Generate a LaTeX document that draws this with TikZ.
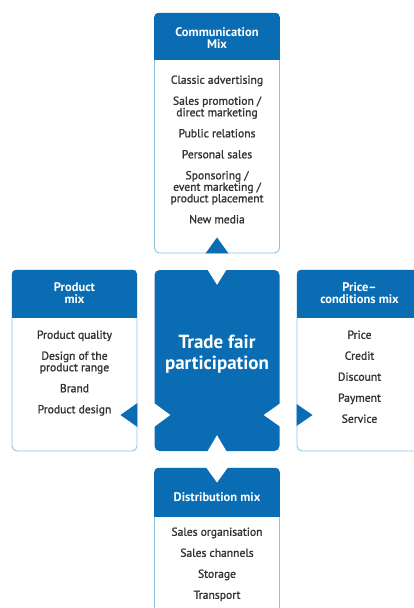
\documentclass[tikz,border=0pt]{standalone}
\usepackage{fontspec}
\setmainfont{PT Sans}
\newfontfamily\listfont[FakeBold=1.3]{PT Sans}
\usepackage{tikz}

\definecolor{mixblue}{HTML}{0A6DB3}
\definecolor{rimblue}{HTML}{8EC3E6}
\definecolor{listgray}{HTML}{333333}

\tikzstyle{panel} = [draw=rimblue, fill=white, line width=0.9pt, rounded corners=5pt, minimum width=125pt, inner sep=0pt]
\tikzstyle{mixtitle} = [text=white, font=\fontsize{12.5}{12}\selectfont\bfseries, align=center]
\tikzstyle{mixlist} = [text=listgray, font=\fontsize{11.6}{11.5}\selectfont\listfont, align=center, anchor=north]
\tikzstyle{core} = [fill=mixblue, rounded corners=5pt, minimum width=125pt, minimum height=181pt, inner sep=0pt]
\tikzstyle{coretitle} = [text=white, font=\fontsize{19}{21}\selectfont\bfseries, align=center]

\begin{document}
\begin{tikzpicture}[x=1pt, y=-1pt]
	\clip (0,0) rectangle (414,608);

	% the four mix panels
	\node[panel, minimum height=240pt] (comm) at (217,133) {};
	\node[panel, minimum height=181pt] (prod) at (74.5,360.5) {};
	\node[panel, minimum height=181pt] (price) at (359.5,360.5) {};
	\node[panel, minimum height=170pt] (dist) at (217,553) {};

	% blue heads
	\begin{scope}
		\clip[rounded corners=5pt] (comm.south west) rectangle (comm.north east);
		\fill[mixblue] (comm.north west) rectangle (comm.east |- 0,60);
	\end{scope}
	\begin{scope}
		\clip[rounded corners=5pt] (prod.south west) rectangle (prod.north east);
		\fill[mixblue] (prod.north west) rectangle (prod.east |- 0,318);
	\end{scope}
	\begin{scope}
		\clip[rounded corners=5pt] (price.south west) rectangle (price.north east);
		\fill[mixblue] (price.north west) rectangle (price.east |- 0,318);
	\end{scope}
	\begin{scope}
		\clip[rounded corners=5pt] (dist.south west) rectangle (dist.north east);
		\fill[mixblue] (dist.north west) rectangle (dist.east |- 0,517);
	\end{scope}

	% centre block
	\node[core] (core) at (217,360.5) {};
	\node[coretitle] (coretext) at (217,354) {Trade fair\\participation};

	% notches and pointers
	\coordinate (pl) at (prod.east |- 0,415);
	\coordinate (pr) at (price.west |- 0,415);
	\coordinate (cl) at (core.west |- 0,415);
	\coordinate (cr) at (core.east |- 0,415);
	\fill[white] ([xshift=-10pt,yshift=1pt]core.north) -- ([xshift=10pt,yshift=1pt]core.north) -- ([yshift=-15pt]core.north) -- cycle;
	\fill[white] ([xshift=-10pt,yshift=-1pt]core.south) -- ([xshift=10pt,yshift=-1pt]core.south) -- ([yshift=16pt]core.south) -- cycle;
	\fill[white] ([xshift=-1pt,yshift=12.5pt]cl) -- ([xshift=-1pt,yshift=-12.5pt]cl) -- ([xshift=16pt]cl) -- cycle;
	\fill[white] ([xshift=1pt,yshift=12pt]cr) -- ([xshift=1pt,yshift=-12pt]cr) -- ([xshift=-16pt]cr) -- cycle;
	\fill[mixblue] ([xshift=-11.5pt]comm.south) -- ([xshift=11.5pt]comm.south) -- ([yshift=16pt]comm.south) -- cycle;
	\fill[mixblue] ([yshift=12pt]pl) -- ([yshift=-12pt]pl) -- ([xshift=-17pt]pl) -- cycle;
	\fill[mixblue] ([yshift=11pt]pr) -- ([yshift=-11pt]pr) -- ([xshift=16pt]pr) -- cycle;
	\fill[white] ([xshift=-11.5pt,yshift=1pt]dist.north) -- ([xshift=11.5pt,yshift=1pt]dist.north) -- ([yshift=-15pt]dist.north) -- cycle;

	% head titles
	\node[mixtitle] (commtitle) at (217,38) {Communication\\Mix};
	\node[mixtitle] (prodtitle) at (74.5,293.5) {Product\\mix};
	\node[mixtitle] (pricetitle) at (359.5,293.5) {Price--\\conditions mix};
	\node[mixtitle] (disttitle) at (217,497) {Distribution mix};

	% item lists
	\node[mixlist] (commlist) at (217,72) {Classic advertising\\[9.5pt]
		Sales promotion /\\direct marketing\\[9.5pt]
		Public relations\\[9.5pt]
		Personal sales\\[9.5pt]
		Sponsoring /\\event marketing /\\product placement\\[9.5pt]
		New media};
	\node[mixlist] (prodlist) at (74.5,327) {Product quality\\[9.5pt]
		Design of the\\product range\\[9.5pt]
		Brand\\[9.5pt]
		Product design};
	\node[mixlist] (pricelist) at (359.5,327) {Price\\[9.5pt]
		Credit\\[9.5pt]
		Discount\\[9.5pt]
		Payment\\[9.5pt]
		Service};
	\node[mixlist] (distlist) at (217,524) {Sales organisation\\[9.5pt]
		Sales channels\\[9.5pt]
		Storage\\[9.5pt]
		Transport};
\end{tikzpicture}
\end{document}
